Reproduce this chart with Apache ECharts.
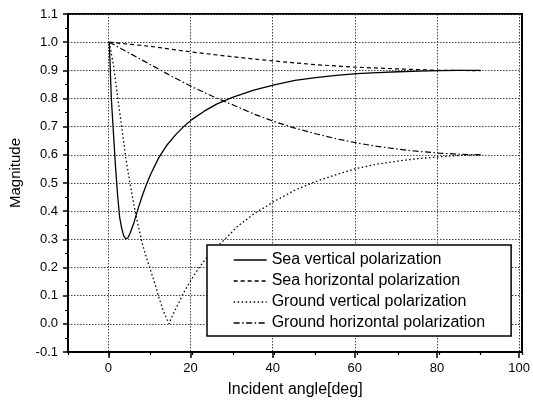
<!DOCTYPE html>
<html>
<head>
<meta charset="utf-8">
<script src="https://cdn.jsdelivr.net/npm/echarts@6/dist/echarts.min.js"></script>
<style>
html,body{margin:0;padding:0;background:#fff;}
#chart{width:533px;height:404px;}
</style>
</head>
<body>
<div id="chart"></div>
<script>
// ---- data ----
var seriesNames = ['Sea vertical polarization', 'Sea horizontal polarization', 'Ground vertical polarization', 'Ground horizontal polarization'];

var seaVX = [0,0.5,1,1.5,2,2.5,3,3.5,4,4.5,5,6,7,8,9,10,12,14,16,18,20,23,26,30,35,40,45,50,55,60,65,70,75,80,85,90];
var seaVY = [1.0,0.80,0.68,0.56,0.46,0.38,0.34,0.312,0.302,0.305,0.32,0.36,0.41,0.455,0.495,0.53,0.59,0.635,0.67,0.70,0.725,0.755,0.78,0.805,0.83,0.848,0.864,0.874,0.882,0.888,0.892,0.895,0.897,0.899,0.9,0.9];

var seaHX = [0,10,20,30,40,50,60,70,80,90];
var seaHY = [1.0,0.985,0.965,0.948,0.933,0.92,0.911,0.905,0.9,0.899];

var grVX = [0,1,2,3,4,5,6,7,8,9,10,11,12,13,14,14.5,15,16,18,20,22,25,28,31,35,40,45,50,55,60,65,70,75,80,85,90];
var grVY = [1.0,0.92,0.81,0.70,0.59,0.50,0.42,0.35,0.285,0.235,0.19,0.145,0.095,0.05,0.015,0.0,0.02,0.05,0.11,0.16,0.205,0.26,0.30,0.345,0.39,0.435,0.475,0.505,0.53,0.552,0.567,0.578,0.587,0.593,0.598,0.6];

var grHX = [0,5,10,15,20,25,30,35,40,45,50,55,60,65,70,75,80,85,90];
var grHY = [1.0,0.96,0.92,0.88,0.842,0.808,0.777,0.745,0.718,0.695,0.675,0.657,0.642,0.63,0.62,0.612,0.606,0.602,0.6];

function zip(xs, ys){ return xs.map(function(x,i){ return [x, ys[i]]; }); }

var FONT = '"Liberation Sans", Arial, Helvetica, sans-serif';

var lineTypes = ['solid', [4,3], [1.5,2.5], [6,2.5,1.5,2.5]];
var lineWidths = [1.3, 1.2, 1.3, 1.2];
var datasets = [zip(seaVX, seaVY), zip(seaHX, seaHY), zip(grVX, grVY), zip(grHX, grHY)];

var chart = echarts.init(document.getElementById('chart'), null, {renderer:'canvas'});

var gridLine = {show:true, lineStyle:{color:'#444', width:1, type:[1.5,1.5]}};

var option = {
  animation: false,
  backgroundColor: '#fff',
  textStyle: {fontFamily: FONT},
  grid: [
    {left:67, right:11, top:14, bottom:52, show:true, borderColor:'#000', borderWidth:2, backgroundColor:'transparent'},
    {left:108.36, right:11, top:14, bottom:52, show:false}
  ],
  legend: {
    orient: 'vertical',
    left: 207, top: 245,
    padding: [7, 26, 5, 26],
    itemWidth: 33, itemHeight: 16, itemGap: 5,
    backgroundColor: '#fff',
    borderColor: '#000', borderWidth: 1.5,
    itemStyle: {opacity: 0},
    lineStyle: {width: 1.3, color: '#000', opacity: 1},
    textStyle: {fontSize: 16, color:'#000', fontFamily: FONT, lineHeight: 16},
    data: seriesNames
  },
  xAxis: [
    {
      type:'value', gridIndex:0, min:-10, max:100, interval:10,
      axisLine:{show:true, onZero:false, lineStyle:{color:'#000', width:2}},
      axisTick:{show:true, length:3, lineStyle:{color:'#000', width:1.2}},
      axisLabel:{show:false},
      splitLine:{show:false},
      name:'Incident angle[deg]', nameLocation:'middle', nameGap:30,
      nameTextStyle:{fontSize:16, color:'#000', fontFamily:FONT}
    },
    {
      type:'value', gridIndex:1, min:0, max:100, interval:20,
      axisLine:{show:false, onZero:false},
      axisTick:{show:true, length:6, lineStyle:{color:'#000', width:1.5}},
      axisLabel:{show:true, fontSize:13, color:'#000', margin:10, fontFamily:FONT},
      splitLine: gridLine
    }
  ],
  yAxis: [
    {
      type:'value', gridIndex:0, min:-0.1, max:1.1, interval:0.1,
      axisLine:{show:true, onZero:false, lineStyle:{color:'#000', width:2}},
      axisTick:{show:true, length:5, lineStyle:{color:'#000', width:1.5}},
      minorTick:{show:true, splitNumber:2, length:3, lineStyle:{color:'#000', width:1}},
      axisLabel:{fontSize:13, color:'#000', margin:10, fontFamily:FONT,
        formatter:function(v){ return (Math.round(v*10)/10).toFixed(1); }},
      splitLine: gridLine,
      name:'Magnitude', nameLocation:'middle', nameGap:45, nameRotate:90,
      nameTextStyle:{fontSize:15, color:'#000', fontFamily:FONT, padding:[0,0,0,20]}
    },
    {type:'value', gridIndex:1, min:-0.1, max:1.1, show:false}
  ],
  series: seriesNames.map(function(n, i){
    return {
      name:n, type:'line', xAxisIndex:0, yAxisIndex:0,
      data: datasets[i], symbol:'none', showSymbol:false, smooth:false,
      lineStyle:{color:'#000', width:lineWidths[i], type:lineTypes[i]},
      itemStyle:{color:'#000'},
      z: 3
    };
  })
};
chart.setOption(option);
</script>
</body>
</html>
